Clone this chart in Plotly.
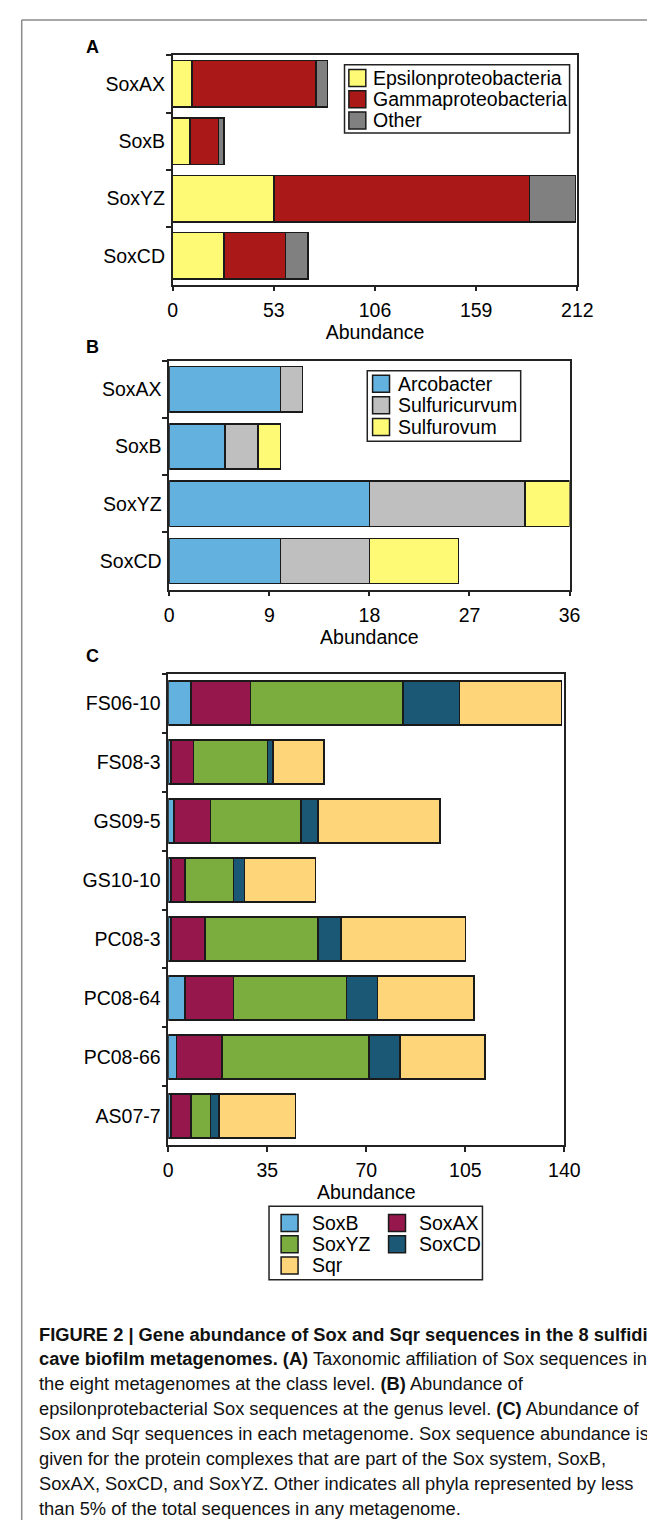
import plotly.graph_objects as go

W, H = 655, 1520

# ---------------- data ----------------
# Panel A: taxonomic affiliation (class level)
a_genes = ["SoxAX", "SoxB", "SoxYZ", "SoxCD"]
a_epsilon = [10, 9, 53, 27]
a_gamma = [65, 15, 134, 32]
a_other = [6, 3, 24, 12]
a_ticks = [0, 53, 106, 159, 212]

# Panel B: epsilonproteobacterial genus level
b_genes = ["SoxAX", "SoxB", "SoxYZ", "SoxCD"]
b_arcobacter = [10, 5, 18, 10]
b_sulfuricurvum = [2, 3, 14, 8]
b_sulfurovum = [None, 2, 4, 8]
b_ticks = [0, 9, 18, 27, 36]

# Panel C: Sox and Sqr abundance per metagenome
c_samples = ["FS06-10", "FS08-3", "GS09-5", "GS10-10", "PC08-3", "PC08-64", "PC08-66", "AS07-7"]
c_soxb = [8, 1, 2, 1, 1, 6, 3, 1]
c_soxax = [21, 8, 13, 5, 12, 17, 16, 7]
c_soxyz = [54, 26, 32, 17, 40, 40, 52, 7]
c_soxcd = [20, 2, 6, 4, 8, 11, 11, 3]
c_sqr = [36, 18, 43, 25, 44, 34, 30, 27]
c_ticks = [0, 35, 70, 105, 140]

a_names = ["Epsilonproteobacteria", "Gammaproteobacteria", "Other"]
b_names = ["Arcobacter", "Sulfuricurvum", "Sulfurovum"]
c_names = ["SoxB", "SoxAX", "SoxYZ", "SoxCD", "Sqr"]

caption_lines = [
    "<b>FIGURE 2 | Gene abundance of Sox and Sqr sequences in the 8 sulfidic</b>",
    "<b>cave biofilm metagenomes. (A)</b> Taxonomic affiliation of Sox sequences in",
    "the eight metagenomes at the class level. <b>(B)</b> Abundance of",
    "epsilonprotebacterial Sox sequences at the genus level. <b>(C)</b> Abundance of",
    "Sox and Sqr sequences in each metagenome. Sox sequence abundance is",
    "given for the protein complexes that are part of the Sox system, SoxB,",
    "SoxAX, SoxCD, and SoxYZ. Other indicates all phyla represented by less",
    "than 5% of the total sequences in any metagenome.",
]

# ---------------- styles ----------------
YELLOW = "#FFFA75"
RED = "#AA1917"
GREY = "#808080"
BLUE = "#62B1DF"
LGREY = "#BFBFBF"
MAROON = "#96174C"
GREEN = "#7AAD3D"
NAVY = "#1A5876"
ORANGE = "#FFD57A"

a_colors = [YELLOW, RED, GREY]
b_colors = [BLUE, LGREY, YELLOW]
c_colors = [BLUE, MAROON, GREEN, NAVY, ORANGE]

FONT = "Liberation Sans, Arial, Helvetica, sans-serif"
FS = 19.5
EDGE = "#1a1a1a"


def px(x):
    return x / W


def py(y):
    return 1 - y / H


fig = go.Figure()


def add_panel(cats, series, names, colors, xa, ya, width):
    for vals, name, col in zip(series, names, colors):
        fig.add_trace(go.Bar(
            y=cats, x=vals, name=name, orientation="h",
            marker=dict(color=col, line=dict(color=EDGE, width=1.5)),
            width=width, xaxis=xa, yaxis=ya, showlegend=False,
        ))


add_panel(a_genes, [a_epsilon, a_gamma, a_other], a_names, a_colors, "x", "y", 0.81)
add_panel(b_genes, [b_arcobacter, b_sulfuricurvum, b_sulfurovum], b_names, b_colors, "x2", "y2", 0.79)
add_panel(c_samples, [c_soxb, c_soxax, c_soxyz, c_soxcd, c_sqr], c_names, c_colors, "x3", "y3", 0.746)

common = dict(
    showline=True, linecolor="#222", linewidth=1.5, mirror=True,
    ticks="outside", ticklen=5, tickwidth=1.5, tickcolor="#222",
    showgrid=False, zeroline=False,
    tickfont=dict(family=FONT, size=FS, color="black"),
)


def xaxis(dom, rng, ticks, anchor):
    return dict(common, domain=dom, range=rng, tickvals=ticks, anchor=anchor,
                autorange=False, ticklabelstandoff=2,
                title=dict(text="Abundance", font=dict(family=FONT, size=FS, color="black"), standoff=2))


def yaxis(dom, cats, anchor):
    return dict(common, domain=dom, type="category", categoryorder="array",
                categoryarray=cats, range=[len(cats) - 0.5, -0.5], autorange=False,
                tickson="boundaries", anchor=anchor, ticklabelstandoff=2)


# pixel boxes of the three plot areas (left, right, top, bottom)
boxA = (165.0, 583.0, 47.3, 276.5)
boxB = (161.4, 575.0, 352.7, 581.7)
boxC = (160.4, 569.6, 665.7, 1137.3)


def xdom(b):
    return [px(b[0]), px(b[1])]


def ydom(b):
    return [py(b[3]), py(b[2])]


fig.update_layout(
    width=W, height=H,
    margin=dict(l=0, r=0, t=0, b=0),
    paper_bgcolor="white", plot_bgcolor="white",
    barmode="stack",
    font=dict(family=FONT, size=FS, color="black"),
    xaxis=xaxis(xdom(boxA), [0, 212], a_ticks, "y"),
    yaxis=yaxis(ydom(boxA), a_genes, "x"),
    xaxis2=xaxis(xdom(boxB), [0, 36], b_ticks, "y2"),
    yaxis2=yaxis(ydom(boxB), b_genes, "x2"),
    xaxis3=xaxis(xdom(boxC), [0, 140], c_ticks, "y3"),
    yaxis3=yaxis(ydom(boxC), c_samples, "x3"),
    showlegend=False,
)

shapes = []
annotations = []

# outer frame (top + left)
shapes.append(dict(type="line", xref="paper", yref="paper", x0=px(9), x1=px(655), y0=py(12), y1=py(12),
                   line=dict(color="#8a8a8a", width=1.5)))
shapes.append(dict(type="line", xref="paper", yref="paper", x0=px(9), x1=px(9), y0=py(12), y1=py(1520),
                   line=dict(color="#8a8a8a", width=1.5)))

# panel letters
for letter, yy in [("A", 38.5), ("B", 339), ("C", 648)]:
    annotations.append(dict(text="<b>%s</b>" % letter, x=px(73.5), y=py(yy), xref="paper", yref="paper",
                            xanchor="left", yanchor="middle", showarrow=False,
                            font=dict(family=FONT, size=18, color="black")))


def legend_box(x0, x1, y0, y1):
    shapes.append(dict(type="rect", xref="paper", yref="paper", x0=px(x0), x1=px(x1), y0=py(y1), y1=py(y0),
                       line=dict(color="#222", width=1.5), fillcolor="white", layer="above"))


def legend_item(sx, tx, yc, color, label, sw=17.5):
    shapes.append(dict(type="rect", xref="paper", yref="paper", x0=px(sx), x1=px(sx + sw),
                       y0=py(yc + 8.5), y1=py(yc - 8.5),
                       line=dict(color=EDGE, width=1.5), fillcolor=color, layer="above"))
    annotations.append(dict(text=label, x=px(tx), y=py(yc), xref="paper", yref="paper",
                            xanchor="left", yanchor="middle", showarrow=False,
                            font=dict(family=FONT, size=FS, color="black")))


# Legend A
legend_box(342.5, 575.0, 56.7, 125.0)
for i, (nm, col) in enumerate(zip(a_names, a_colors)):
    legend_item(347.0, 370.0, 70.0 + 21.2 * i, col, nm)

# Legend B
legend_box(366.0, 524.5, 362.7, 433.3)
for i, (nm, col) in enumerate(zip(b_names, b_colors)):
    legend_item(371.5, 396.0, 375.7 + 21.6 * i, col, nm)

# Legend C (two columns, row-wise order)
legend_box(264.5, 485.0, 1198.3, 1271.7)
for i, (nm, col) in enumerate(zip(c_names, c_colors)):
    row, colno = divmod(i, 2)
    sx = 277.0 if colno == 0 else 388.0
    legend_item(sx, sx + 29.5, 1215.0 + 21.2 * row, col, nm)

# Caption
for i, line in enumerate(caption_lines):
    annotations.append(dict(text=line, x=px(25), y=py(1326 + 24.9 * i), xref="paper", yref="paper",
                            xanchor="left", yanchor="middle", showarrow=False, align="left",
                            font=dict(family=FONT, size=18.3, color="#111")))

fig.update_layout(shapes=shapes, annotations=annotations)

fig.write_html("out.html")
